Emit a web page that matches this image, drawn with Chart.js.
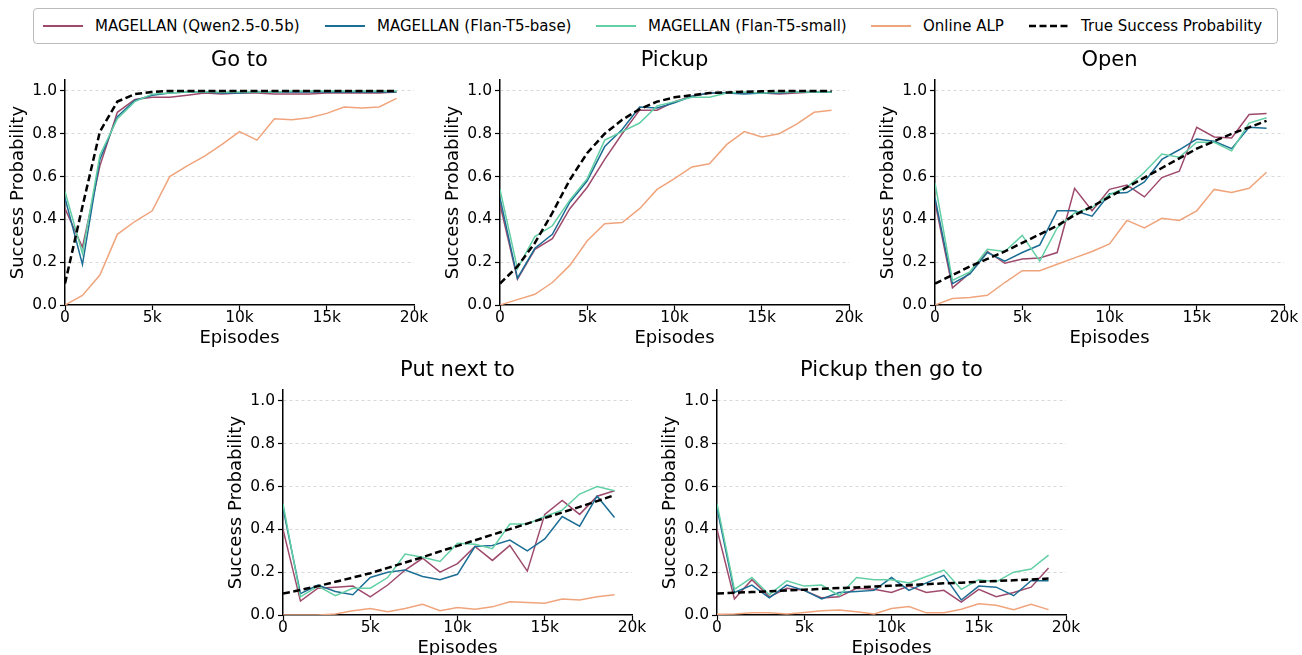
<!DOCTYPE html>
<html>
<head>
<meta charset="utf-8">
<script src="https://cdn.jsdelivr.net/npm/chart.js@4.4.1/dist/chart.umd.min.js"></script>
<style>
  html, body { margin:0; padding:0; background:#fff; }
  body { width:1302px; height:655px; overflow:hidden; position:relative;
         font-family:"DejaVu Sans", sans-serif; color:#000; }
  canvas { position:absolute; }
  #legend { position:absolute; left:33px; top:8px; width:1243px; height:34px;
            border:1px solid #bbb; border-radius:4px; }
  .lg-line { position:absolute; top:14px; line-height:0; }
  .lg-line svg { display:block; }
  .lg-text { position:absolute; top:8px; font-size:15px; line-height:18px; white-space:nowrap; }
</style>
</head>
<body>
<div id="legend"></div>
<canvas id="c0" width="434" height="313" style="left:0px;top:42px"></canvas>
<canvas id="c1" width="434" height="313" style="left:435px;top:42px"></canvas>
<canvas id="c2" width="434" height="313" style="left:870px;top:42px"></canvas>
<canvas id="c3" width="434" height="313" style="left:218px;top:352px"></canvas>
<canvas id="c4" width="434" height="313" style="left:652px;top:352px"></canvas>
<script>
/* ---------- data ---------- */
const episodes = [0,1000,2000,3000,4000,5000,6000,7000,8000,9000,10000,11000,12000,13000,14000,15000,16000,17000,18000,19000];

const xTicks = [0, 5000, 10000, 15000, 20000];
const xTickLabels = ['0', '5k', '10k', '15k', '20k'];
const yTicks = [0, 0.2, 0.4, 0.6, 0.8, 1.0];

const seriesNames = ['MAGELLAN (Qwen2.5-0.5b)', 'MAGELLAN (Flan-T5-base)', 'MAGELLAN (Flan-T5-small)', 'Online ALP', 'True Success Probability'];
const panelTitles = ['Go to', 'Pickup', 'Open', 'Put next to', 'Pickup then go to'];

// Go to
const gotoQwen  = [0.45,0.27,0.65,0.90,0.96,0.97,0.97,0.98,0.99,0.985,0.99,0.99,0.985,0.985,0.985,0.99,0.99,0.99,0.99,0.995];
const gotoBase  = [0.50,0.19,0.68,0.88,0.955,0.98,0.99,0.995,0.995,0.99,0.99,0.995,0.995,0.995,0.995,0.995,0.995,0.995,0.995,0.995];
const gotoSmall = [0.53,0.24,0.70,0.87,0.95,0.985,0.99,0.995,0.995,0.995,0.995,0.995,0.995,1.0,1.0,1.0,1.0,1.0,1.0,1.0];
const gotoAlp   = [0.0,0.045,0.14,0.33,0.39,0.44,0.60,0.65,0.695,0.75,0.81,0.77,0.87,0.865,0.875,0.895,0.925,0.92,0.925,0.965];
const gotoTrue  = [0.10,0.46,0.81,0.95,0.985,0.995,1.0,1.0,1.0,1.0,1.0,1.0,1.0,1.0,1.0,1.0,1.0,1.0,1.0,1.0];

// Pickup
const pickQwen  = [0.47,0.12,0.26,0.31,0.45,0.55,0.68,0.80,0.91,0.91,0.95,0.975,0.99,0.99,0.99,0.99,0.985,0.99,0.995,0.995];
const pickBase  = [0.50,0.125,0.265,0.33,0.48,0.58,0.74,0.82,0.925,0.92,0.945,0.975,0.99,0.99,0.985,0.99,0.99,0.995,0.995,0.995];
const pickSmall = [0.54,0.17,0.32,0.37,0.49,0.59,0.77,0.81,0.85,0.93,0.95,0.97,0.97,0.99,0.995,0.99,0.995,0.995,0.995,0.995];
const pickAlp   = [0.0,0.025,0.05,0.105,0.185,0.30,0.38,0.385,0.45,0.54,0.59,0.645,0.66,0.75,0.81,0.785,0.80,0.845,0.90,0.91];
const pickTrue  = [0.10,0.18,0.29,0.43,0.585,0.71,0.80,0.865,0.915,0.95,0.97,0.98,0.99,0.993,0.996,0.998,1.0,1.0,1.0,1.0];

// Open
const openQwen  = [0.48,0.08,0.15,0.25,0.195,0.215,0.22,0.245,0.545,0.44,0.54,0.56,0.505,0.595,0.625,0.83,0.785,0.78,0.89,0.895];
const openBase  = [0.50,0.10,0.145,0.245,0.205,0.245,0.28,0.44,0.44,0.415,0.52,0.525,0.575,0.68,0.725,0.775,0.765,0.73,0.83,0.825];
const openSmall = [0.57,0.115,0.155,0.26,0.25,0.325,0.205,0.36,0.43,0.455,0.515,0.55,0.62,0.705,0.69,0.76,0.76,0.72,0.85,0.875];
const openAlp   = [0.0,0.03,0.035,0.045,0.105,0.16,0.16,0.19,0.22,0.25,0.285,0.395,0.36,0.405,0.395,0.44,0.54,0.525,0.545,0.62];
const openTrue  = [0.10,0.14,0.18,0.215,0.25,0.29,0.33,0.37,0.42,0.46,0.505,0.55,0.595,0.64,0.685,0.73,0.765,0.80,0.83,0.86];

// Put next to
const putQwen   = [0.40,0.065,0.125,0.13,0.135,0.085,0.14,0.21,0.265,0.20,0.24,0.32,0.255,0.325,0.205,0.47,0.535,0.47,0.555,0.58];
const putBase   = [0.50,0.10,0.14,0.11,0.095,0.175,0.20,0.21,0.18,0.165,0.19,0.32,0.325,0.35,0.30,0.355,0.46,0.415,0.555,0.455];
const putSmall  = [0.52,0.085,0.135,0.09,0.125,0.125,0.175,0.285,0.27,0.25,0.335,0.33,0.31,0.425,0.425,0.46,0.49,0.565,0.60,0.58];
const putAlp    = [0.0,0.0,0.0,0.005,0.02,0.03,0.015,0.03,0.05,0.02,0.035,0.027,0.038,0.062,0.058,0.055,0.075,0.07,0.085,0.095];
const putTrue   = [0.10,0.117,0.135,0.155,0.175,0.195,0.22,0.245,0.27,0.297,0.323,0.349,0.375,0.401,0.427,0.453,0.479,0.505,0.532,0.56];

// Pickup then go to
const ptgQwen   = [0.40,0.075,0.165,0.085,0.125,0.115,0.08,0.085,0.125,0.12,0.105,0.135,0.105,0.115,0.06,0.12,0.085,0.105,0.13,0.22];
const ptgBase   = [0.50,0.105,0.14,0.08,0.14,0.115,0.075,0.105,0.11,0.115,0.175,0.115,0.15,0.185,0.07,0.135,0.13,0.09,0.16,0.16];
const ptgSmall  = [0.52,0.12,0.175,0.095,0.16,0.135,0.14,0.09,0.175,0.165,0.165,0.15,0.18,0.21,0.12,0.165,0.155,0.20,0.215,0.28];
const ptgAlp    = [0.003,0.005,0.01,0.01,0.005,0.012,0.02,0.023,0.015,0.005,0.03,0.04,0.01,0.01,0.027,0.052,0.045,0.025,0.05,0.025];
const ptgTrue   = [0.10,0.104,0.107,0.111,0.115,0.118,0.122,0.126,0.129,0.133,0.137,0.140,0.144,0.148,0.151,0.155,0.159,0.162,0.166,0.17];

const panels = [
  [gotoQwen, gotoBase, gotoSmall, gotoAlp, gotoTrue],
  [pickQwen, pickBase, pickSmall, pickAlp, pickTrue],
  [openQwen, openBase, openSmall, openAlp, openTrue],
  [putQwen,  putBase,  putSmall,  putAlp,  putTrue],
  [ptgQwen,  ptgBase,  ptgSmall,  ptgAlp,  ptgTrue]
];

/* ---------- style ---------- */
const colors = ['#9d4a6c', '#1c6e94', '#62cfa5', '#f0a47c', '#000000'];
const FONT = '"DejaVu Sans", sans-serif';

/* ---------- legend ---------- */
const legendLineX = [43, 325, 596, 871, 1029];
const legendTextX = [95, 377, 648, 923, 1081];
const legend = document.getElementById('legend');
seriesNames.forEach((name, i) => {
  const dash = i === 4 ? 'stroke-dasharray="7,3.5"' : '';
  const w = i === 4 ? 2.5 : 2;
  const box = document.createElement('div');
  box.className = 'lg-line';
  box.style.left = (legendLineX[i] - 34) + 'px';
  box.innerHTML = `<svg width="40" height="6"><line x1="0" y1="3" x2="40" y2="3" stroke="${colors[i]}" stroke-width="${w}" ${dash}/></svg>`;
  legend.appendChild(box);
  const t = document.createElement('div');
  t.className = 'lg-text';
  t.style.left = (legendTextX[i] - 34) + 'px';
  t.textContent = name;
  legend.appendChild(t);
});

/* ---------- charts ---------- */
function makeChart(idx) {
  const vals = panels[idx];
  // true curve on top, then ALP, small, base, qwen
  const datasets = [4, 3, 2, 1, 0].map(s => ({
    label: seriesNames[s],
    data: episodes.map((x, k) => ({x: x, y: vals[s][k]})),
    borderColor: colors[s],
    borderWidth: s === 4 ? 2.5 : 1.5,
    borderDash: s === 4 ? [7, 3.5] : [],
    pointRadius: 0,
    tension: 0,
    fill: false
  }));

  new Chart(document.getElementById('c' + idx), {
    type: 'line',
    data: {datasets},
    options: {
      responsive: false,
      animation: false,
      events: [],
      layout: {padding: {left: 0, right: 20, top: 0, bottom: 0}},
      plugins: {
        legend: {display: false},
        tooltip: {enabled: false},
        title: {
          display: true,
          text: panelTitles[idx],
          fullSize: false,
          color: '#000',
          font: {family: FONT, size: 21, weight: 'normal'},
          padding: {top: 6, bottom: 7}
        }
      },
      scales: {
        x: {
          type: 'linear',
          min: 0, max: 20000,
          afterBuildTicks: s => { s.ticks = xTicks.map(v => ({value: v})); },
          afterFit: s => { s.height = 50; },
          ticks: {
            color: '#000', padding: -1, maxRotation: 0,
            font: {family: FONT, size: 15.5},
            callback: v => xTickLabels[xTicks.indexOf(v)]
          },
          grid: {drawOnChartArea: false, tickLength: 5, tickColor: '#000', tickWidth: 1.2},
          border: {display: true, color: '#000', width: 1.5},
          title: {
            display: true, text: 'Episodes', color: '#000',
            font: {family: FONT, size: 18}, padding: {top: 0, bottom: 6}
          }
        },
        y: {
          min: 0, max: 1.05,
          afterBuildTicks: s => { s.ticks = yTicks.map(v => ({value: v})); },
          afterFit: s => { s.width = 65; },
          ticks: {
            color: '#000', padding: 3,
            font: {family: FONT, size: 15.5},
            callback: v => v.toFixed(1)
          },
          grid: {
            color: c => (c.tick && c.tick.value === 0) ? 'rgba(0,0,0,0)' : '#cfcfcf',
            lineWidth: 0.8,
            tickLength: 5, tickColor: '#000', tickWidth: 1.2, tickBorderDash: []
          },
          border: {display: true, color: '#000', width: 1.5, dash: [3, 3]},
          title: {
            display: true, text: 'Success Probability', color: '#000',
            font: {family: FONT, size: 18}, padding: {top: 8, bottom: 0}
          }
        }
      }
    }
  });
}

panels.forEach((_, i) => makeChart(i));
</script>
</body>
</html>
